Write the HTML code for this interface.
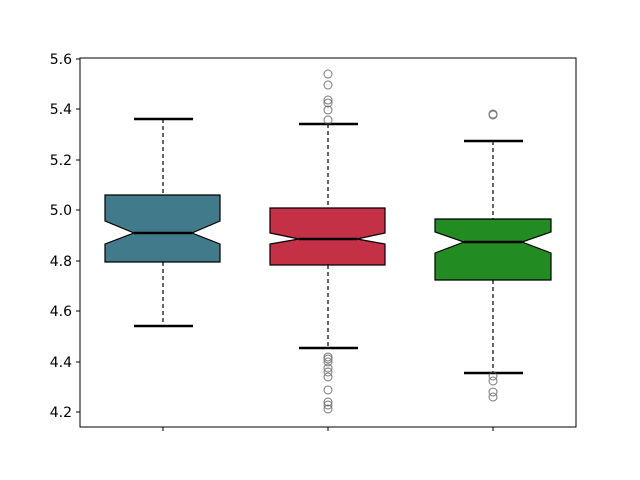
<!DOCTYPE html>
<html><head><style>body{margin:0;background:#fff}svg{display:block}</style></head><body>
<svg width="640" height="480" xmlns="http://www.w3.org/2000/svg" font-family="DejaVu Sans, sans-serif">
<rect x="80" y="58" width="496" height="369" fill="none" stroke="#000" stroke-width="1"/>
<g font-size="14" text-anchor="end" fill="#000">
<g stroke="#000"><line x1="76" y1="59" x2="80" y2="59"/><line x1="76" y1="109" x2="80" y2="109"/><line x1="76" y1="160" x2="80" y2="160"/><line x1="76" y1="210" x2="80" y2="210"/><line x1="76" y1="261" x2="80" y2="261"/><line x1="76" y1="311" x2="80" y2="311"/><line x1="76" y1="362" x2="80" y2="362"/><line x1="76" y1="412" x2="80" y2="412"/>
<line x1="163" y1="427" x2="163" y2="431"/><line x1="328" y1="427" x2="328" y2="431"/><line x1="493" y1="427" x2="493" y2="431"/></g>
<text x="72" y="64">5.6</text><text x="72" y="114">5.4</text><text x="72" y="165">5.2</text><text x="72" y="215">5.0</text><text x="72" y="266">4.8</text><text x="72" y="316">4.6</text><text x="72" y="367">4.4</text><text x="72" y="417">4.2</text>
</g>
<g stroke="#000" stroke-dasharray="4,3" stroke-width="1.2">
<line x1="163" y1="119" x2="163" y2="195"/><line x1="163" y1="262" x2="163" y2="326"/>
<line x1="328" y1="124" x2="328" y2="208"/><line x1="328" y1="265" x2="328" y2="348"/>
<line x1="493" y1="141" x2="493" y2="219"/><line x1="493" y1="280" x2="493" y2="373"/>
</g>
<g stroke="#000" stroke-width="1.2">
<polygon points="105,195 220,195 220,221 192,233 220,244 220,262 105,262 105,244 134,233 105,221" fill="#417a8b"/>
<polygon points="270,208 385,208 385,233 357,239 385,244 385,265 270,265 270,244 299,239 270,233" fill="#c43147"/>
<polygon points="435,219 551,219 551,232 522,242 551,253 551,280 435,280 435,253 464,242 435,232" fill="#228b22"/>
</g>
<g stroke="#000" stroke-width="2.5">
<line x1="134" y1="233" x2="192" y2="233"/><line x1="299" y1="239" x2="357" y2="239"/><line x1="464" y1="242" x2="522" y2="242"/>
<line x1="134" y1="119" x2="193" y2="119"/><line x1="134" y1="326" x2="193" y2="326"/>
<line x1="299" y1="124" x2="358" y2="124"/><line x1="299" y1="348" x2="358" y2="348"/>
<line x1="464" y1="141" x2="523" y2="141"/><line x1="464" y1="373" x2="523" y2="373"/>
</g>
<g fill="none" stroke="#555" stroke-width="1" opacity="0.8">
<circle cx="328" cy="74" r="4"/><circle cx="328" cy="85" r="4"/><circle cx="328" cy="100" r="4"/><circle cx="328" cy="103" r="4"/><circle cx="328" cy="110" r="4"/><circle cx="328" cy="120" r="4"/>
<circle cx="328" cy="357" r="4"/><circle cx="328" cy="359" r="4"/><circle cx="328" cy="362" r="4"/><circle cx="328" cy="368" r="4"/><circle cx="328" cy="372" r="4"/><circle cx="328" cy="377" r="4"/><circle cx="328" cy="390" r="4"/><circle cx="328" cy="402" r="4"/><circle cx="328" cy="405" r="4"/><circle cx="328" cy="409" r="4"/>
<circle cx="493" cy="114" r="4"/><circle cx="493" cy="115" r="4"/>
<circle cx="493" cy="376" r="4"/><circle cx="493" cy="381" r="4"/><circle cx="493" cy="392" r="4"/><circle cx="493" cy="397" r="4"/>
</g>
</svg>
</body></html>
